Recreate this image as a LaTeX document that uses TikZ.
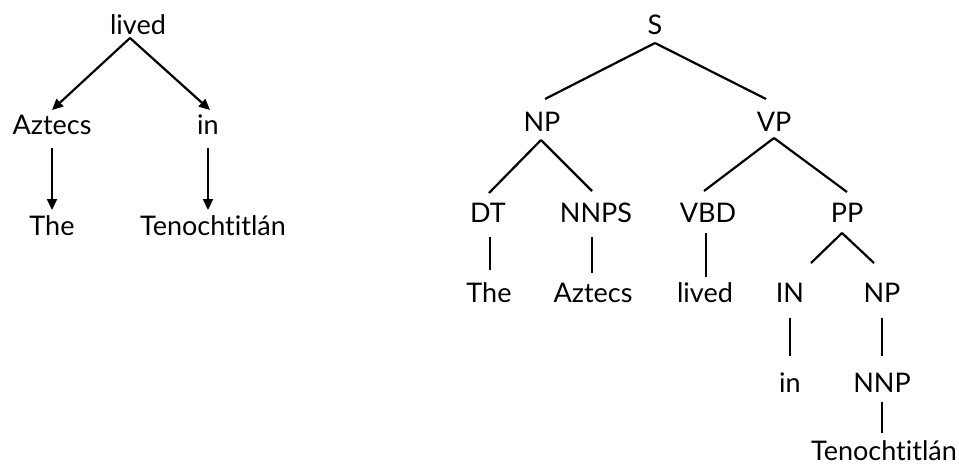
\documentclass[tikz,border=0pt]{standalone}
\usepackage{fontspec}
\setmainfont{Lato}[Ligatures={NoCommon}]
\usetikzlibrary{arrows.meta,calc}
\begin{document}
\begin{tikzpicture}[x=1pt,y=1pt,
  lbl/.style={anchor=base,inner sep=0pt,outer sep=0pt,text height=19pt,text depth=0pt,
    font=\fontsize{27}{32}\selectfont},
  arr/.style={line width=2.2pt,-{Triangle[length=11pt,width=10pt]}},
  ln/.style={line width=2.2pt}]
\useasboundingbox (0,0) rectangle (959,467);
% left tree (dependency)
\node[lbl] (lived) at (138,432) {lived};
\node[lbl] (aztecs) at (52,332) {Aztecs};
\node[lbl] (in) at (208,332) {in};
\node[lbl] (the) at (52,232) {The};
\node[lbl] (ten) at (213,232) {Tenochtitlán};
\coordinate (apex) at ($(lived.south)+(-8,-3)$);
\draw[arr] (apex) -- ($(aztecs.north)+(0,6)$);
\draw[arr] (apex) -- ($(in.north)+(2,6)$);
\draw[arr] ($(aztecs.south)+(0,-13)$) -- ($(aztecs.south |- the.north)+(0,6)$);
\draw[arr] ($(in.south)+(0,-13)$) -- ($(in.south |- ten.north)+(0,6)$);
% right tree (constituency)
\node[lbl] (S) at (655,432) {S};
\node[lbl] (NPa) at (542,336) {NP};
\node[lbl] (VP) at (774,336) {VP};
\node[lbl] (DT) at (488,245) {DT};
\node[lbl] (NNPS) at (596,245) {NNPS};
\node[lbl] (VBD) at (708,245) {VBD};
\node[lbl] (PP) at (847,245) {PP};
\node[lbl] (theb) at (489,165) {The};
\node[lbl] (aztecsb) at (593,165) {Aztecs};
\node[lbl] (livedb) at (705,165) {lived};
\node[lbl] (IN) at (790,165) {IN};
\node[lbl] (NPb) at (882,165) {NP};
\node[lbl] (inb) at (790,75) {in};
\node[lbl] (NNP) at (882,75) {NNP};
\node[lbl] (tenb) at (884,7) {Tenochtitlán};
% diagonal branches
\draw[ln] ($(S.south)+(0,-8)$) -- ($(NPa.north)+(3,13)$);
\draw[ln] ($(S.south)+(0,-8)$) -- ($(VP.north)+(-8,13)$);
\draw[ln] ($(NPa.south)+(-1,-9)$) -- ($(DT.north)+(1,10)$);
\draw[ln] ($(NPa.south)+(-1,-9)$) -- ($(NNPS.north)+(-4,12)$);
\draw[ln] ($(VP.south)+(0,-7)$) -- ($(VBD.north)+(-4,12)$);
\draw[ln] ($(VP.south)+(0,-7)$) -- ($(PP.north)+(0,11)$);
\draw[ln] ($(PP.south)+(-5,-11)$) -- ($(IN.north)+(21,20)$);
\draw[ln] ($(PP.south)+(-5,-11)$) -- ($(NPb.north)+(-8,20)$);
% vertical branches
\draw[ln] ($(DT.south -| theb.north)+(1,-15)$) -- ($(theb.north)+(1,13)$);
\draw[ln] ($(NNPS.south -| aztecsb.north)+(-1,-15)$) -- ($(aztecsb.north)+(-1,10)$);
\draw[ln] ($(VBD.south -| livedb.north)+(1,-11)$) -- ($(livedb.north)+(1,6)$);
\draw[ln] ($(IN.south)+(0,-16)$) -- ($(IN.south |- inb.north)+(0,17)$);
\draw[ln] ($(NPb.south)+(0,-16)$) -- ($(NPb.south |- NNP.north)+(0,17)$);
\draw[ln] ($(NNP.south)+(0,-10)$) -- ($(NNP.south |- tenb.north)+(0,8)$);
\end{tikzpicture}
\end{document}
